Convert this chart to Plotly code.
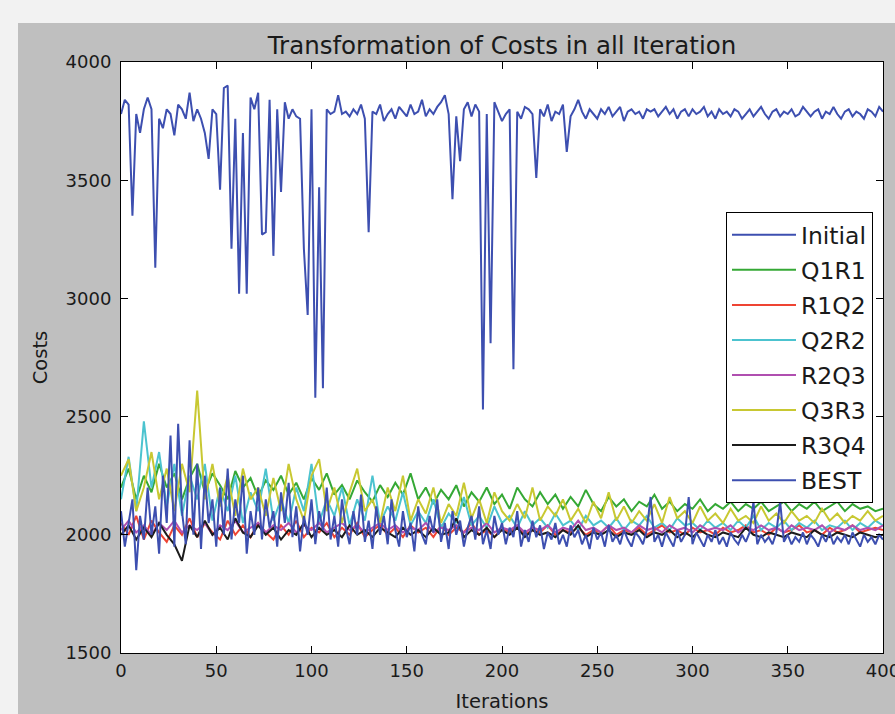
import plotly.graph_objects as go

# ---------------- data ----------------
iter_step2 = list(range(0, 401, 2))
iter_step4 = list(range(0, 401, 4))

initial = [3780, 3840, 3820, 3350, 3780, 3700, 3800, 3850, 3800, 3130,
           3760, 3720, 3800, 3780, 3690, 3820, 3800, 3760, 3870, 3750,
           3800, 3760, 3700, 3590, 3800, 3780, 3460, 3890, 3900, 3210,
           3760, 3020, 3700, 3020, 3850, 3800, 3870, 3270, 3280, 3840,
           3180, 3800, 3450, 3830, 3760, 3800, 3770, 3760, 3210, 2930,
           3800, 2580, 3470, 2620, 3800, 3780, 3790, 3860, 3780, 3790,
           3770, 3800, 3780, 3820, 3760, 3280, 3790, 3780, 3820, 3750,
           3780, 3800, 3760, 3810, 3790, 3770, 3820, 3780, 3790, 3840,
           3770, 3800, 3780, 3810, 3830, 3860, 3780, 3420, 3770, 3580,
           3800, 3830, 3770, 3820, 3790, 2530, 3780, 2810, 3830, 3790,
           3750, 3780, 3800, 2700, 3790, 3760, 3810, 3800, 3780, 3510,
           3800, 3770, 3820, 3750, 3790, 3780, 3820, 3620, 3770, 3800,
           3840, 3790, 3760, 3800, 3780, 3760, 3800, 3780, 3810, 3770,
           3790, 3810, 3750, 3790, 3800, 3780, 3790, 3760, 3800, 3790,
           3800, 3770, 3790, 3810, 3780, 3800, 3760, 3790, 3800, 3770,
           3800, 3780, 3790, 3810, 3770, 3790, 3760, 3800, 3780, 3790,
           3770, 3800, 3790, 3760, 3780, 3800, 3770, 3790, 3810, 3780,
           3760, 3790, 3800, 3770, 3790, 3780, 3800, 3770, 3780, 3810,
           3790, 3770, 3790, 3800, 3760, 3790, 3780, 3810, 3780, 3760,
           3790, 3800, 3770, 3790, 3780, 3760, 3800, 3790, 3770, 3810,
           3790]

q1r1 = [2200, 2280, 2150, 2250, 2180, 2300, 2200, 2260, 2150, 2240,
        2300, 2180, 2260, 2210, 2150, 2270, 2200, 2240, 2160, 2230,
        2190, 2250, 2170, 2220, 2150, 2240, 2190, 2260, 2170, 2210,
        2150, 2230, 2180, 2140, 2210, 2160, 2220, 2170, 2260, 2150,
        2200, 2130, 2190, 2150, 2210, 2120, 2180, 2140, 2200, 2130,
        2170, 2110, 2200, 2150, 2120, 2180, 2130, 2170, 2110, 2160,
        2120, 2190, 2130, 2100, 2160, 2120, 2150, 2100, 2140, 2120,
        2170, 2110, 2140, 2100, 2130, 2110, 2150, 2100, 2130, 2110,
        2140, 2100, 2130, 2110, 2140, 2100, 2120, 2140, 2100, 2130,
        2110, 2140, 2100, 2120, 2140, 2100, 2130, 2110, 2120, 2100,
        2110]

r1q2 = [2050, 2000, 2080, 1980, 2060, 2010, 1970, 2040, 2000, 2070,
        1990, 2050, 2010, 1980, 2060, 2000, 2040, 1990, 2050, 2010,
        1980, 2040, 2000, 2060, 1990, 2030, 2010, 2050, 1990, 2030,
        2000, 2050, 1990, 2020, 2040, 2000, 2030, 1990, 2040, 2010,
        2030, 1990, 2040, 2000, 2030, 2010, 2050, 2000, 2020, 1990,
        2030, 2010, 2040, 2000, 2020, 2010, 2040, 2000, 2020, 2010,
        2030, 2000, 2020, 2010, 2040, 2000, 2020, 2010, 2030, 2000,
        2020, 2040, 2010, 2020, 2000, 2030, 2010, 2020, 2000, 2030,
        2010, 2020, 2040, 2010, 2020, 2000, 2030, 2010, 2020, 2040,
        2010, 2020, 2000, 2030, 2010, 2020, 2040, 2010, 2020, 2030,
        2020]

q2r2 = [2150, 2330, 2100, 2480, 2200, 2350, 2120, 2300, 2080, 2250,
        2150, 2300, 2060, 2200, 2100, 2250, 2050, 2180, 2100, 2280,
        2060, 2150, 2050, 2200, 2100, 2300, 2050, 2150, 2080, 2200,
        2040, 2150, 2060, 2250, 2050, 2120, 2060, 2180, 2040, 2100,
        2050, 2150, 2030, 2090, 2050, 2160, 2040, 2080, 2030, 2120,
        2050, 2080, 2030, 2100, 2040, 2070, 2030, 2090, 2040, 2060,
        2020, 2080, 2040, 2060, 2030, 2070, 2020, 2060, 2040, 2080,
        2030, 2050, 2020, 2070, 2040, 2050, 2020, 2060, 2030, 2050,
        2020, 2060, 2030, 2080, 2020, 2050, 2030, 2060, 2020, 2050,
        2030, 2060, 2020, 2040, 2030, 2060, 2020, 2050, 2030, 2060,
        2040]

r2q3 = [2020, 2060, 2010, 2040, 2000, 2050, 2020, 2060, 2010, 2040,
        2020, 2050, 2000, 2040, 2020, 2060, 2010, 2030, 2050, 2010,
        2040, 2020, 2050, 2010, 2040, 2020, 2050, 2010, 2030, 2050,
        2020, 2040, 2010, 2030, 2050, 2020, 2040, 2010, 2030, 2020,
        2050, 2010, 2030, 2020, 2040, 2010, 2030, 2020, 2050, 2010,
        2030, 2020, 2040, 2010, 2030, 2020, 2040, 2010, 2030, 2020,
        2060, 2020, 2030, 2010, 2040, 2020, 2030, 2010, 2040, 2020,
        2030, 2010, 2040, 2020, 2030, 2010, 2040, 2020, 2030, 2020,
        2040, 2010, 2030, 2020, 2040, 2020, 2030, 2010, 2040, 2020,
        2030, 2020, 2040, 2010, 2030, 2020, 2040, 2020, 2030, 2020,
        2040]

q3r3 = [2250, 2320, 2100, 2200, 2350, 2150, 2280, 2100, 2300, 2180,
        2610, 2150, 2300, 2120, 2250, 2080, 2280, 2150, 2200, 2080,
        2240, 2100, 2300, 2150, 2060, 2250, 2320, 2100, 2200, 2050,
        2180, 2280, 2100, 2150, 2050, 2200, 2100, 2250, 2060, 2150,
        2090, 2200, 2050, 2130, 2080, 2220, 2070, 2150, 2050, 2180,
        2100, 2060, 2130, 2070, 2200, 2060, 2120, 2080, 2150, 2060,
        2110, 2050, 2140, 2070, 2180, 2060, 2120, 2050, 2100, 2060,
        2130, 2050, 2160, 2070, 2100, 2050, 2120, 2060, 2090, 2050,
        2110, 2060, 2080, 2050, 2120, 2060, 2090, 2050, 2100, 2060,
        2080, 2050, 2110, 2060, 2090, 2050, 2080, 2060, 2100, 2060,
        2080]

r3q4 = [2000, 2040, 1980, 2030, 1990, 2050, 2000, 1960, 1890, 2040,
        1990, 2060, 2000, 2030, 1980, 2070, 2010, 1990, 2040, 2000,
        2030, 1980, 2020, 2000, 2050, 1990, 2030, 2000, 2020, 1990,
        2040, 2000, 2020, 1990, 2030, 2010, 1990, 2030, 2000, 2020,
        1990, 2030, 2000, 2010, 2070, 1990, 2020, 2000, 2030, 1990,
        2020, 2000, 2030, 1990, 2020, 2000, 2010, 1990, 2020, 2000,
        2040, 1990, 2010, 2000, 2020, 1990, 2010, 2000, 2020, 1990,
        2010, 2000, 2020, 1990, 2010, 1990, 2020, 2000, 1990, 2010,
        2000, 1990, 2030, 2000, 1990, 2010, 2000, 1990, 2010, 2000,
        1990, 2020, 2000, 1990, 2010, 2000, 1990, 2010, 2000, 1990,
        2000]

best = [2100, 1950, 2050, 2150, 1850, 2080, 1980, 2200, 2000, 2120,
        1920, 2250, 2050, 2420, 1950, 2470, 2100, 1960, 2400, 2000,
        2300, 1940, 2250, 2050, 2150, 1950, 2200, 2000, 2280, 1980,
        2150, 2050, 2250, 1920, 2100, 2000, 2200, 1980, 2150, 2030,
        2100, 1950, 2180, 2050, 2220, 1990, 2120, 1930, 2080, 2000,
        2150, 1960, 2100, 2020, 2200, 1980, 2080, 1950, 2150, 2030,
        1960, 2100, 2000, 2170, 1970, 2060, 1940, 2120, 2000, 2080,
        1960, 2150, 2020, 1950, 2100, 1990, 2050, 1930, 2120, 2000,
        1960, 2080, 2010, 2150, 1970, 2050, 1940, 2100, 2000, 2060,
        1950, 2030, 2080, 1980, 2120, 1960, 2020, 1940, 2080, 2000,
        2050, 1960, 2030, 1990, 2100, 1950, 2020, 1970, 2060, 1990,
        2040, 1940, 2010, 1980, 2050, 1960, 2000, 1950, 2040, 1990,
        2020, 1960, 2000, 1940, 2030, 1980, 2010, 1950, 2040, 1970,
        2000, 1960, 2020, 1980, 1950, 2010, 1990, 1960, 2020, 2160,
        1970, 2000, 1950, 2010, 1980, 1950, 2020, 1970, 2000, 2160,
        1960, 2010, 1980, 1950, 2000, 1970, 2020, 1960, 1990, 1950,
        2010, 1980, 1960, 2000, 1970, 2010, 2140, 1960, 2000, 1970,
        1990, 1960, 2010, 2140, 1970, 2000, 1960, 1990, 1970, 2010,
        1960, 2000, 1980, 1950, 2000, 1970, 2010, 1960, 1990, 1970,
        2000, 1960, 2010, 1980, 1950, 2000, 1970, 1990, 1960, 2000,
        1980]

series_names = ["Initial", "Q1R1", "R1Q2", "Q2R2", "R2Q3", "Q3R3", "R3Q4", "BEST"]
series_values = [initial, q1r1, r1q2, q2r2, r2q3, q3r3, r3q4, best]
series_x = [iter_step2, iter_step4, iter_step4, iter_step4, iter_step4, iter_step4, iter_step4, iter_step2]
series_colors = ["#3d4fb0", "#35a835", "#ee4433", "#4cc3cf", "#b04fb0", "#c8c832", "#1c1c1c", "#3d4fb0"]

x_ticks = [0, 50, 100, 150, 200, 250, 300, 350, 400]
y_ticks = [1500, 2000, 2500, 3000, 3500, 4000]

# ---------------- figure ----------------
FONT = "DejaVu Sans"
fig = go.Figure()
for i, (name, xs, ys, col) in enumerate(zip(series_names, series_x, series_values, series_colors)):
    fig.add_trace(go.Scatter(x=xs, y=ys, mode="lines", name=name,
                             line=dict(color=col, width=2),
                             legendgroup=f"g{i}"))

W, H = 895, 714
L, R, T, B = 121, 12, 62, 61
pw, ph = W - L - R, H - T - B

def px_x(p):
    return (p - L) / pw

def px_y(p):
    return (H - B - p) / ph

shapes = [
    dict(type="rect", xref="paper", yref="paper", x0=px_x(-20), x1=px_x(18),
         y0=px_y(H + 20), y1=px_y(-20), fillcolor="#f2f2f2", line=dict(width=0)),
    dict(type="rect", xref="paper", yref="paper", x0=px_x(-20), x1=px_x(W + 20),
         y0=px_y(23), y1=px_y(-20), fillcolor="#f2f2f2", line=dict(width=0)),
]

axis_common = dict(showline=True, linecolor="black", linewidth=1, mirror="allticks",
                   ticks="inside", ticklen=7, tickcolor="black", tickwidth=1,
                   showgrid=False, zeroline=False, ticklabeloverflow="allow",
                   tickfont=dict(family=FONT, size=18, color="#1a1a1a"))

fig.update_layout(
    width=W, height=H,
    margin=dict(l=L, r=R, t=T, b=B, autoexpand=False),
    paper_bgcolor="#bfbfbf", plot_bgcolor="white",
    shapes=shapes,
    title=dict(text="Transformation of Costs in all Iteration", x=0.5, xref="paper",
               xanchor="center", y=1 - 45 / H, yref="container", yanchor="middle",
               font=dict(family=FONT, size=24.5, color="#1a1a1a")),
    xaxis=dict(range=[0, 400], tickvals=x_ticks, ticklabelstandoff=1,
               title=dict(text="Iterations", font=dict(family=FONT, size=19.5, color="#1a1a1a"), standoff=14),
               **axis_common),
    yaxis=dict(range=[1500, 4000], tickvals=y_ticks, ticklabelstandoff=5,
               title=dict(text="Costs", font=dict(family=FONT, size=19.5, color="#1a1a1a"), standoff=12),
               **axis_common),
    legend=dict(x=px_x(873), xanchor="right", y=px_y(212), yanchor="top",
                bgcolor="white", bordercolor="black", borderwidth=1,
                font=dict(family=FONT, size=23.5, color="#1a1a1a"),
                itemwidth=64, entrywidth=99, traceorder="grouped", tracegroupgap=1.5),
    showlegend=True,
)

fig.write_html("out.html", config={"displayModeBar": False},
               post_script="document.body.style.margin='0';document.body.style.background='#f2f2f2';")
